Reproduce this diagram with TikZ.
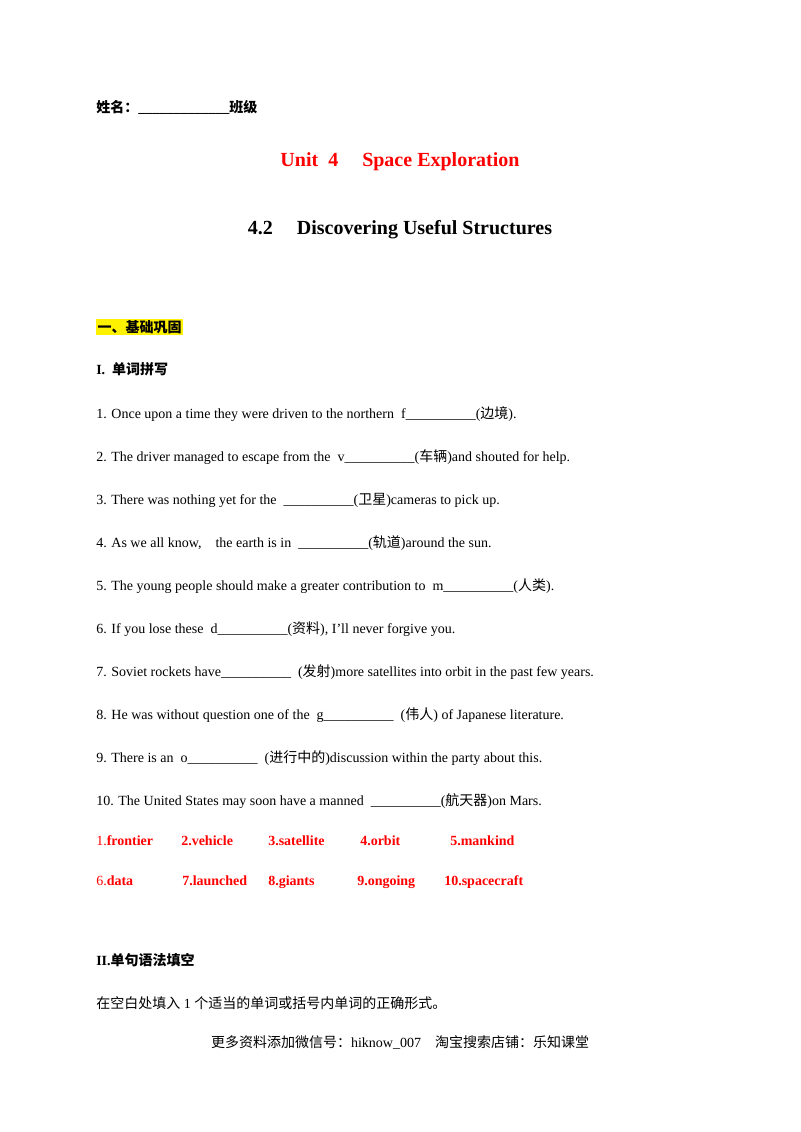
\documentclass[tikz,border=0pt]{standalone}
\usepackage{fontspec}
\setmainfont{Liberation Serif}
\newfontfamily\cjkfont{Noto Sans CJK SC}
\newcommand{\zh}[1]{{\cjkfont #1}}
\begin{document}
\begin{tikzpicture}[x=0.75pt,y=-0.75pt,
  txt/.style={anchor=base west,inner sep=0pt,font=\fontsize{10.5}{12}\selectfont},
  ans/.style={txt,text=red,font=\fontsize{10.5}{12}\selectfont\bfseries},
  ttl/.style={anchor=base,inner sep=0pt,font=\fontsize{15}{18}\selectfont\bfseries}]
\useasboundingbox[fill=white] (0,0) rectangle (800,1132);
\node[txt,font=\fontsize{10.5}{12}\selectfont\bfseries] (name) at (96,112) {\zh{\bfseries 姓名：}\_\_\_\_\_\_\_\_\_\_\_\_\_\zh{\bfseries 班级}};
\node[ttl,text=red] (t1) at (400,166) {Unit\ \ 4\hspace{1.2em}Space Exploration};
\node[ttl] (t2) at (400,234) {4.2\hspace{1.2em}Discovering Useful Structures};
\node[txt,fill=yellow,inner sep=1pt] (s1) at (96,332) {\zh{\bfseries 一、基础巩固}};
\node[txt] (s2) at (96,374) {\textbf{I.}\ \ \zh{\bfseries 单词拼写}};
\node[txt] (q1) at (96,418) {1. Once upon a time they were driven to the northern\ \ f\_\_\_\_\_\_\_\_\_\_(\zh{边境}).};
\node[txt] (q2) at (96,461) {2. The driver managed to escape from the\ \ v\_\_\_\_\_\_\_\_\_\_(\zh{车辆})and shouted for help.};
\node[txt] (q3) at (96,504) {3. There was nothing yet for the\ \ \_\_\_\_\_\_\_\_\_\_(\zh{卫星})cameras to pick up.};
\node[txt] (q4) at (96,547) {4. As we all know,\ \ \ \ the earth is in\ \ \_\_\_\_\_\_\_\_\_\_(\zh{轨道})around the sun.};
\node[txt] (q5) at (96,590) {5. The young people should make a greater contribution to\ \ m\_\_\_\_\_\_\_\_\_\_(\zh{人类}).};
\node[txt] (q6) at (96,633) {6. If you lose these\ \ d\_\_\_\_\_\_\_\_\_\_(\zh{资料}), I'll never forgive you.};
\node[txt] (q7) at (96,676) {7. Soviet rockets have\_\_\_\_\_\_\_\_\_\_\ \ (\zh{发射})more satellites into orbit in the past few years.};
\node[txt] (q8) at (96,719) {8. He was without question one of the\ \ g\_\_\_\_\_\_\_\_\_\_\ \ (\zh{伟人}) of Japanese literature.};
\node[txt] (q9) at (96,762) {9. There is an\ \ o\_\_\_\_\_\_\_\_\_\_\ \ (\zh{进行中的})discussion within the party about this.};
\node[txt] (q10) at (96,805) {10. The United States may soon have a manned\ \ \_\_\_\_\_\_\_\_\_\_(\zh{航天器})on Mars.};
\node[ans] (a1) at (96,845) {\mdseries 1.\bfseries frontier};
\node[ans] (a2) at (181,845) {2.vehicle};
\node[ans] (a3) at (268,845) {3.satellite};
\node[ans] (a4) at (360,845) {4.orbit};
\node[ans] (a5) at (450,845) {5.mankind};
\node[ans] (a6) at (96,885) {\mdseries 6.\bfseries data};
\node[ans] (a7) at (182,885) {7.launched};
\node[ans] (a8) at (268,885) {8.giants};
\node[ans] (a9) at (357,885) {9.ongoing};
\node[ans] (a10) at (444,885) {10.spacecraft};
\node[txt] (s3) at (96,965) {\textbf{II.}\zh{\bfseries 单句语法填空}};
\node[txt] (s4) at (96,1008) {\zh{在空白处填入} 1 \zh{个适当的单词或括号内单词的正确形式。}};
\node[txt,anchor=base] (ft) at (400,1047) {\zh{更多资料添加微信号：}hiknow\_007\ \ \ \ \zh{淘宝搜索店铺：乐知课堂}};
\end{tikzpicture}
\end{document}
